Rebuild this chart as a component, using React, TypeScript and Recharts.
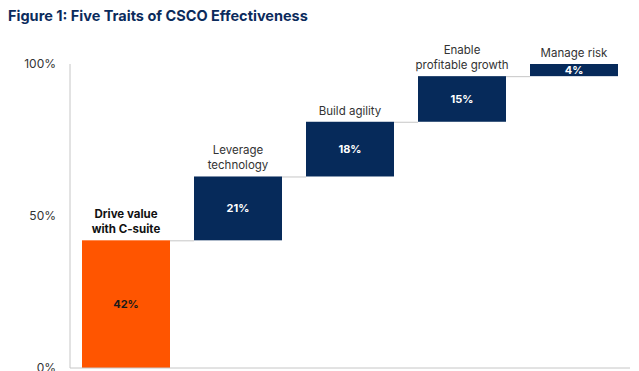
import React from 'react';
import { BarChart, Bar, XAxis, YAxis, LabelList } from 'recharts';

// Five traits, share of effectiveness (waterfall steps)
const categories = [
  'Drive value\nwith C-suite',
  'Leverage\ntechnology',
  'Build agility',
  'Enable\nprofitable growth',
  'Manage risk',
];
const shares = [42, 21, 18, 15, 4];
const yTicks = [0, 50, 100];

const ORANGE = '#FF5500';
const NAVY = '#062A5A';
const GRID = '#c6c6c6';
const BAR_SIZE = 88;
const BAND = 112;

const data = categories.map((name, i) => ({
  name,
  base: shares.slice(0, i).reduce((a, b) => a + b, 0),
  value: shares[i],
}));

const StepBar = (props: any) => {
  const { x, y, width, height, index } = props;
  const last = index === data.length - 1;
  return (
    <g>
      <rect x={x} y={y} width={width} height={height} fill={index === 0 ? ORANGE : NAVY} />
      {!last && (
        <line x1={x + width} x2={x + width + (BAND - BAR_SIZE)} y1={y + 0.5} y2={y + 0.5} stroke={GRID} strokeWidth={1} />
      )}
    </g>
  );
};

const NameLabel = (props: any) => {
  const { x, y, width, value, index } = props;
  const lines = String(value).split('\n');
  const first = index === 0;
  return (
    <text
      x={x + width / 2}
      textAnchor="middle"
      fontSize={11.5}
      fontWeight={first ? 700 : 400}
      fill={first ? '#111' : '#333'}
    >
      {lines.map((l, i) => (
        <tspan key={i} x={x + width / 2} y={y - 7 - (lines.length - 1 - i) * 15}>
          {l}
        </tspan>
      ))}
    </text>
  );
};

const ValueLabel = (props: any) => {
  const { x, y, width, height, value, index } = props;
  return (
    <text
      x={x + width / 2}
      y={y + height / 2 + 4}
      textAnchor="middle"
      fontSize={11}
      fontWeight={700}
      fill={index === 0 ? '#1a1a1a' : '#ffffff'}
    >
      {`${value}%`}
    </text>
  );
};

export default function App() {
  return (
    <div
      style={{
        position: 'absolute',
        left: 0,
        top: 0,
        width: 639,
        height: 371,
        background: '#fff',
        fontFamily: 'Inter, "Noto Sans", sans-serif',
        overflow: 'hidden',
      }}
    >
      <div
        style={{
          position: 'absolute',
          left: 8,
          top: 7,
          fontSize: 14.5,
          fontWeight: 700,
          color: '#0B2B5C',
          whiteSpace: 'nowrap',
        }}
      >
        Figure 1: Five Traits of CSCO Effectiveness
      </div>
      <BarChart
        width={639}
        height={371}
        data={data}
        margin={{ top: 64, right: 9, left: 10, bottom: 2 }}
        style={{ fontFamily: 'Inter, "Noto Sans", sans-serif', overflow: 'visible' }}
      >
        <XAxis
          dataKey="name"
          tick={false}
          tickLine={false}
          height={1}
          axisLine={{ stroke: GRID }}
        />
        <YAxis
          width={60}
          domain={[0, 100]}
          ticks={yTicks}
          interval={0}
          tickFormatter={(v: number) => `${v}%`}
          tickLine={false}
          tickMargin={8}
          axisLine={{ stroke: GRID }}
          tick={{ fill: '#333', fontSize: 12 }}
        />
        <Bar dataKey="base" stackId="w" fill="transparent" barSize={BAR_SIZE} isAnimationActive={false} />
        <Bar dataKey="value" stackId="w" barSize={BAR_SIZE} shape={StepBar} isAnimationActive={false}>
          <LabelList dataKey="name" content={NameLabel} />
          <LabelList dataKey="value" content={ValueLabel} />
        </Bar>
      </BarChart>
    </div>
  );
}
